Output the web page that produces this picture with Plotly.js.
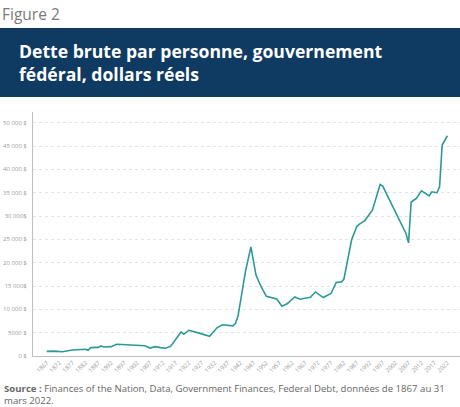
<!DOCTYPE html>
<html>
<head>
<meta charset="utf-8">
<script src="https://cdn.plot.ly/plotly-3.0.1.min.js"></script>
<style>
html,body{margin:0;padding:0;background:#fff;}
#chart{width:460px;height:407px;}
</style>
</head>
<body>
<div id="chart"></div>
<script>
const years = [1867,1870,1873,1877,1882,1883,1884,1887,1888,1889,1892,1894,1896,1900,1905,1907,1909,1911,1913,1915,1917,1919,1920,1922,1926,1930,1933,1935,1939,1940,1941,1942,1944,1946,1948,1950,1952,1956,1958,1960,1963,1965,1969,1971,1974,1977,1979,1981,1982,1985,1987,1988,1990,1993,1996,1997,2000,2004,2006,2007,2008,2010,2012,2015,2016,2018,2019,2020,2022];
const debt = [1000,1050,900,1300,1440,1220,1800,1850,2150,1930,2000,2500,2450,2350,2200,1700,2000,1800,1650,2100,3700,5150,4650,5500,4900,4230,6100,6700,6450,6950,8500,12000,18400,23400,17300,14800,12800,12230,10670,11200,12660,12170,12600,13730,12530,13390,15750,15880,16500,25000,27800,28260,28970,31270,36780,36420,33050,28410,26270,24250,33000,33780,35410,34330,35190,35000,36270,45220,47210];

const xTickVals = [];
for (let y = 1867; y <= 2022; y += 5) xTickVals.push(y);
const yTickVals = [0,5000,10000,15000,20000,25000,30000,35000,40000,45000,50000];
const yTickText = ["0 $","5000 $","10 000 $","15 000$","20 000 $","25 000 $","30 000$","35 000 $","40 000 $","45 000 $","50 000 $"];

const titleText = "Dette brute par personne, gouvernement<br>fédéral, dollars réels";
const figureLabel = "Figure 2";
const sourceText = "<b>Source :</b> Finances of the Nation, Data, Government Finances, Federal Debt, données de 1867 au 31<br>mars 2022.";

const FONT = "Open Sans, Lato, sans-serif";

const trace = {
  x: years, y: debt, type: "scatter", mode: "lines",
  line: {color: "#2b9a96", width: 1.6},
  hoverinfo: "skip"
};

const PH = 407 - 112 - 51;
const layout = {
  width: 460, height: 407,
  margin: {l: 33, r: 0, t: 112, b: 51},
  paper_bgcolor: "#fff", plot_bgcolor: "#fff",
  showlegend: false,
  font: {family: FONT, color: "#999"},
  xaxis: {
    range: [1861.7, 2026.9],
    tickvals: xTickVals,
    ticktext: xTickVals.map(String),
    tickangle: -45,
    tickfont: {size: 6, color: "#9a9a9a", family: FONT},
    showgrid: false, zeroline: false,
    showline: true, linecolor: "#bfbfbf", linewidth: 1,
    ticks: "", fixedrange: true
  },
  yaxis: {
    range: [0, 52300],
    tickvals: yTickVals,
    ticktext: yTickText,
    tickfont: {size: 6, color: "#9a9a9a", family: FONT},
    showgrid: true, gridcolor: "#e3e3e3", griddash: "dot", gridwidth: 1,
    zeroline: false,
    showline: true, linecolor: "#bfbfbf", linewidth: 1,
    ticks: "", ticklabelstandoff: 4, fixedrange: true
  },
  shapes: [{
    type: "rect", xref: "paper", yref: "paper",
    x0: -33/427, x1: 1, y0: (407-51-97)/PH, y1: (407-51-28)/PH,
    fillcolor: "#0f3b63", line: {width: 0}, layer: "below"
  }],
  annotations: [
    {xref: "paper", yref: "paper", x: -33/427, y: (407-51-1)/PH,
     xanchor: "left", yanchor: "top", showarrow: false, align: "left",
     text: figureLabel, font: {size: 15.5, color: "#7a7a7a", family: FONT}},
    {xref: "paper", yref: "paper", x: -16/427, y: (407-51-62.5)/PH,
     xanchor: "left", yanchor: "middle", showarrow: false, align: "left",
     text: "<b>" + titleText + "</b>", font: {size: 17.6, color: "#ffffff", family: FONT}},
    {xref: "paper", yref: "paper", x: -31/427, y: (407-51-380)/PH,
     xanchor: "left", yanchor: "top", showarrow: false, align: "left",
     text: sourceText, font: {size: 9.6, color: "#666", family: FONT}}
  ]
};

Plotly.newPlot("chart", [trace], layout, {displayModeBar: false, staticPlot: true});
</script>
</body>
</html>
